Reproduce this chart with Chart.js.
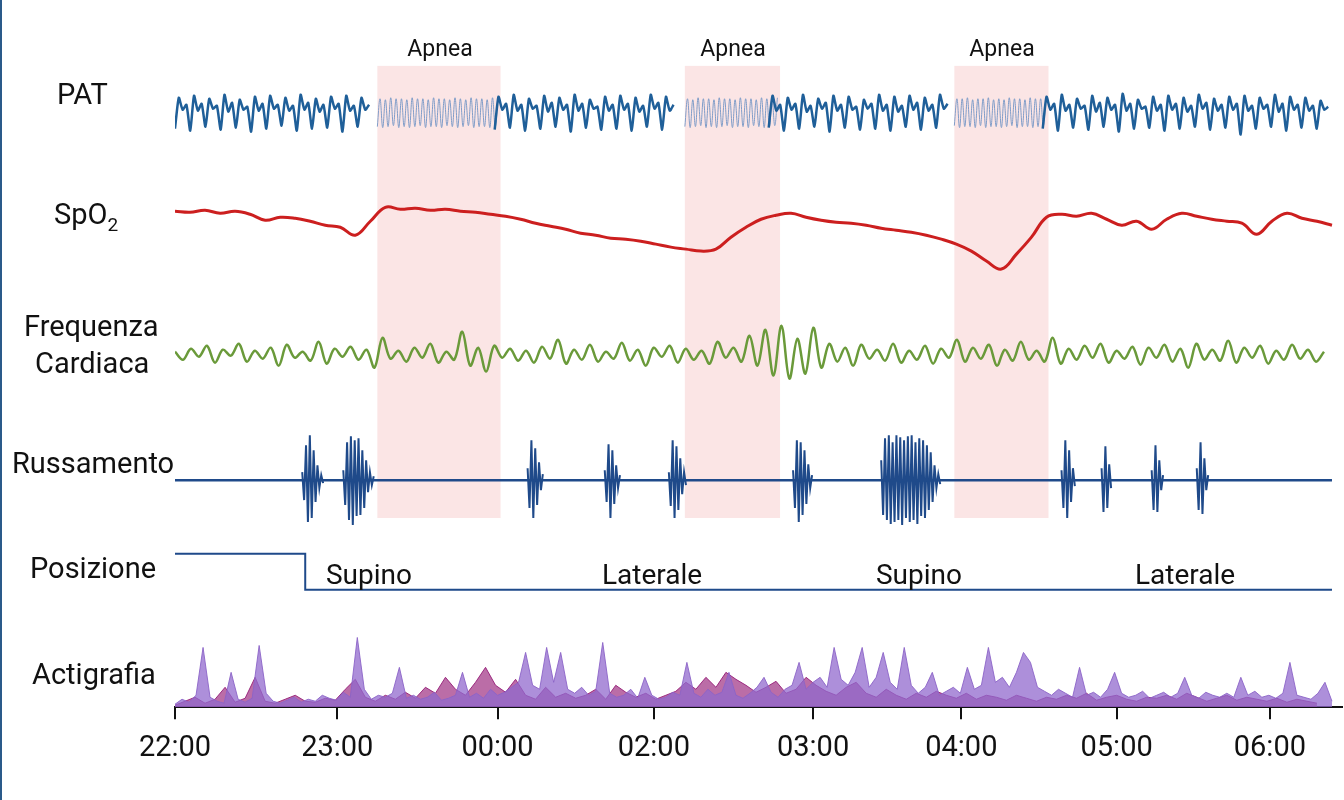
<!DOCTYPE html>
<html><head><meta charset="utf-8">
<script src="https://cdn.jsdelivr.net/npm/chart.js@4"></script>
<style>
body{margin:0;background:#fff;}
#wrap{position:relative;width:1344px;height:800px;border-left:2px solid #2a5a8a;box-sizing:border-box;}
canvas{position:absolute;left:0;top:0;}
.lb{position:absolute;font-family:"Liberation Sans Narrow","Roboto",sans-serif;font-size:29px;color:#111;white-space:nowrap;line-height:1;}
.ap{position:absolute;font-family:"Liberation Sans Narrow","Roboto",sans-serif;font-size:23px;color:#111;transform:translateX(-50%);}
.ps{position:absolute;font-family:"Roboto",sans-serif;font-size:28px;color:#111;transform:translateX(-50%);}
</style></head><body>
<div id="wrap">
<canvas id="c" width="1344" height="800"></canvas>
<div class="lb" style="left:55px;top:80px">PAT</div>
<div class="lb" style="left:52px;top:200px">SpO<sub style="font-size:19px">2</sub></div>
<div class="lb" style="left:22px;top:312px">Frequenza</div>
<div class="lb" style="left:33px;top:349px">Cardiaca</div>
<div class="lb" style="left:10px;top:449px">Russamento</div>
<div class="lb" style="left:28px;top:554px">Posizione</div>
<div class="lb" style="left:30px;top:660px">Actigrafia</div>
<div class="ap" style="left:438px;top:35px">Apnea</div>
<div class="ap" style="left:731px;top:35px">Apnea</div>
<div class="ap" style="left:1000px;top:35px">Apnea</div>
<div class="ps" style="left:367px;top:558px">Supino</div>
<div class="ps" style="left:650px;top:558px">Laterale</div>
<div class="ps" style="left:917px;top:558px">Supino</div>
<div class="ps" style="left:1183px;top:558px">Laterale</div>
</div>
<script>
const tickLabels=['22:00','23:00','00:00','02:00','03:00','04:00','05:00','06:00'];
const tickPos=[0,162,322,478,637,785,940,1093];
const apneaRanges=[[202,325],[509,604],[778,872]];
const N=null;
const patNormal=[
-16,15,3,8,-18,17,2,9,-14,14,4,7,-17,18,1,10,-15,13,3,6,-19,16,2,9,-16,17,4,8,-13,15,2,7,-18,18,3,10,-16,14,1,8,-15,16,4,9,-19,17,2,7,-14,15,3,8,
N,N,N,N,N,N,N,N,N,N,N,N,N,N,N,N,N,N,N,N,N,N,N,N,N,N,N,N,N,N,N,N,
-17,16,3,9,-15,18,2,8,-18,14,4,7,-16,17,1,10,-14,15,3,8,-19,18,2,9,-15,13,4,6,-17,16,2,8,-16,17,3,9,-18,15,1,7,-14,18,4,10,-17,16,2,8,
N,N,N,N,N,N,N,N,N,N,N,N,N,N,N,N,N,N,N,N,N,N,N,N,
-15,17,2,8,-18,15,3,9,-16,18,1,7,-14,14,4,10,-19,17,2,8,-15,16,3,6,-17,13,4,9,-16,18,2,8,-18,16,1,7,-14,17,3,10,-17,15,2,8,-15,18,4,9,
N,N,N,N,N,N,N,N,N,N,N,N,N,N,N,N,N,N,N,N,N,N,N,N,
-16,16,3,9,-18,18,2,8,-15,14,4,7,-17,17,1,10,-14,15,3,8,-19,19,2,9,-16,13,4,6,-15,16,2,8,-18,17,3,9,-16,15,1,7,-14,18,4,10,-17,14,2,8,-15,16,3,9,-22,17,2,7,-16,15,4,8,-14,18,1,9,-18,16,3,8,-15,15,2,7,-16,12,3,6];
const patApnea1=[-14,14,-15,13,-14,15,-13,14,-15,14,-14,13,-15,15,-14,14,-13,14,-15,13,-14,15,-14,14,-15,14,-13,13,-14,15,-15,14,-14,13,-13,15,-15,14,-14,14,-14,13,-15,15,-14,14];
const patApnea2=[-14,14,-15,13,-14,15,-13,14,-15,14,-14,13,-15,15,-14,14,-13,14,-15,13,-14,15,-14,14,-15,14,-13,13,-14,15,-15,14,-14,13,-13,15];
const patApnea3=[-13,14,-15,14,-14,15,-14,13,-15,14,-13,14,-15,15,-14,13,-14,14,-15,13,-14,15,-13,14,-15,14,-14,13,-14,15,-15,14,-14,14,-13,15];
const spo2=[212,213,211,214,212,215,221,218,219,222,226,228,236,222,208,210,209,211,210,212,213,215,217,220,224,227,230,234,236,239,240,242,245,248,250,252,250,238,228,220,216,214,218,221,223,224,226,229,231,233,236,240,245,252,262,270,255,238,218,215,217,214,220,226,222,230,220,214,217,220,222,224,235,222,214,219,222,226];
const hr=[2,-6,5,-3,8,-9,4,-2,10,-8,3,-5,6,-12,9,-4,2,-7,12,-10,5,-3,7,-6,4,-14,16,-5,3,-8,6,-4,10,-9,2,-6,22,-12,6,-18,8,-4,5,-7,3,-9,7,-5,14,-10,4,-6,9,-8,2,-5,11,-7,4,-12,6,-3,8,-9,5,-6,3,-10,12,-4,6,-8,18,-12,24,-22,28,-25,15,-20,26,-14,10,-8,6,-12,9,-5,4,-7,10,-9,3,-6,8,-10,5,-4,14,-8,6,-5,9,-12,4,-7,12,-6,3,-8,16,-10,5,-6,8,-4,10,-9,3,-5,7,-11,6,-4,9,-8,5,-14,10,-6,4,-7,13,-9,6,-4,8,-10,3,-6,9,-5,4,-8,2];
const snoreBursts=[
 {start:127,vals:[8,-20,35,-42,45,-38,30,-22,15,-8,5,-3]},
 {start:168,vals:[10,-25,38,-40,44,-45,40,-36,42,-35,30,-28,20,-12,8,-5,4]},
 {start:352,vals:[12,-28,40,-38,32,-25,18,-10,6]},
 {start:429,vals:[10,-22,36,-38,30,-24,15,-8,5]},
 {start:493,vals:[8,-26,40,-38,34,-30,22,-14,8,-5]},
 {start:617,vals:[10,-28,40,-42,38,-35,30,-24,16,-8,5]},
 {start:705,vals:[20,-35,42,-40,45,-44,38,-42,45,-40,43,-45,40,-38,44,-42,45,-40,38,-44,42,-36,40,-38,35,-30,28,-22,15,-8,6,-4]},
 {start:885,vals:[10,-28,40,-38,30,-22,12,-6]},
 {start:925,vals:[12,-32,34,-28,16,-8]},
 {start:975,vals:[10,-30,35,-32,20,-10,5]},
 {start:1020,vals:[12,-30,38,-34,22,-10,5]}];
const actiA=[3,8,5,12,60,10,6,4,35,8,5,9,62,14,6,4,7,10,5,8,6,12,9,7,15,10,70,18,8,12,10,14,40,9,12,8,10,15,7,9,12,35,10,14,9,18,12,15,20,25,55,22,18,60,25,55,18,14,20,12,16,65,14,10,12,18,9,30,12,8,10,15,12,45,14,10,18,12,15,35,12,9,14,20,30,15,10,18,22,45,18,25,30,20,60,28,22,35,60,20,30,55,25,18,60,22,14,20,35,12,16,20,14,40,18,22,60,25,30,20,35,55,45,20,16,12,18,14,10,40,12,15,10,18,35,14,10,12,16,9,12,15,10,14,30,12,9,15,12,10,14,10,30,12,16,10,12,9,14,45,12,10,8,14,25,6];
const actiB=[2,6,10,4,8,20,5,9,30,6,4,8,12,6,5,9,7,18,28,10,6,12,8,15,9,20,14,30,18,12,25,40,22,15,28,12,8,20,10,14,9,12,18,8,22,15,10,14,8,12,16,25,18,30,20,35,28,22,15,20,26,14,18,30,22,16,12,20,25,14,10,18,12,8,14,10,16,12,9,14,8,12,10,7,12,9,6,10,8,12,9,14,7,10,12,8,6,10,9,12,8,14,10,6,9,12,7,10,8,6,9,5,8,6,4];
const posHigh=154, posLow=118, posSwitch=130, xEnd=1155;

const base={pat:597,hr:355,snore:228};
function series(arr,start,step,off){return arr.map((v,i)=>({x:start+i*step,y:v===null?null:v+off}));}
const patStep=1155/patNormal.length;
const ap=apneaRanges;
const snorePts=[];
snoreBursts.forEach(b=>{b.vals.forEach((v,i)=>snorePts.push({x:b.start+i*1.9,y:v+base.snore}));snorePts.push({x:b.start+b.vals.length*1.9,y:null});});

const boxes={id:'boxes',beforeDatasetsDraw(c){const g=c.ctx,x=c.scales.x,y=c.scales.y;g.save();g.fillStyle='rgba(250,218,218,0.7)';
 ap.forEach(r=>{const a=x.getPixelForValue(r[0]),b=x.getPixelForValue(r[1]);const t=y.getPixelForValue(644),bt=y.getPixelForValue(190);g.fillRect(a,t,b-a,bt-t);});g.restore();}};

const L=(data,color,w,extra)=>Object.assign({data,borderColor:color,borderWidth:w,pointRadius:0,tension:0.3,fill:false,spanGaps:false},extra||{});
new Chart(document.getElementById('c'),{type:'line',
data:{datasets:[
 L(series(actiA,0,7,0),'rgba(140,100,200,0.9)',1,{fill:'origin',backgroundColor:'rgba(145,105,205,0.75)',tension:0}),
 L(series(actiB,0,10,0),'rgba(150,30,120,0.9)',1,{fill:'origin',backgroundColor:'rgba(150,30,120,0.65)',tension:0}),
 L(series(patNormal,0,patStep,base.pat),'#1f5f99',2.5,{tension:0.2}),
 L(series(patApnea1,ap[0][0],(ap[0][1]-ap[0][0])/patApnea1.length,base.pat),'#7f9cc8',1,{tension:0.4}),
 L(series(patApnea2,ap[1][0],(ap[1][1]-ap[1][0])/patApnea2.length,base.pat),'#7f9cc8',1,{tension:0.4}),
 L(series(patApnea3,ap[2][0],(ap[2][1]-ap[2][0])/patApnea3.length,base.pat),'#7f9cc8',1,{tension:0.4}),
 L(spo2.map((v,i)=>({x:i*15,y:710-v})),'#cc1f1f',3,{tension:0.4}),
 L(series(hr,0,1155/hr.length,base.hr),'#6a9a3a',2.5,{tension:0.35}),
 L([{x:0,y:base.snore},{x:xEnd,y:base.snore}],'#1f4a8a',2.5,{tension:0}),
 L(snorePts,'#1f4a8a',2,{tension:0}),
 L([{x:0,y:posHigh},{x:posSwitch,y:posHigh},{x:posSwitch,y:posLow},{x:xEnd,y:posLow}],'#1f4a8a',2,{tension:0})
]},
options:{animation:false,responsive:false,events:[],
 layout:{padding:{left:173,right:4,top:40,bottom:22}},
 plugins:{legend:{display:false},tooltip:{enabled:false}},
 scales:{
  x:{type:'linear',min:0,max:1165,
   afterBuildTicks(s){s.ticks=tickPos.map(v=>({value:v}));},
   ticks:{autoSkip:false,maxRotation:0,padding:12,color:'#111',font:{family:'Roboto',size:29},callback:(v)=>{const i=tickPos.indexOf(v);return i>=0?tickLabels[i]:'';}},
   grid:{drawOnChartArea:false,color:'#111',tickLength:12,lineWidth:2},
   border:{color:'#111',width:2}},
  y:{min:0,max:670,display:false}
 }},
plugins:[boxes]});
</script></body></html>
